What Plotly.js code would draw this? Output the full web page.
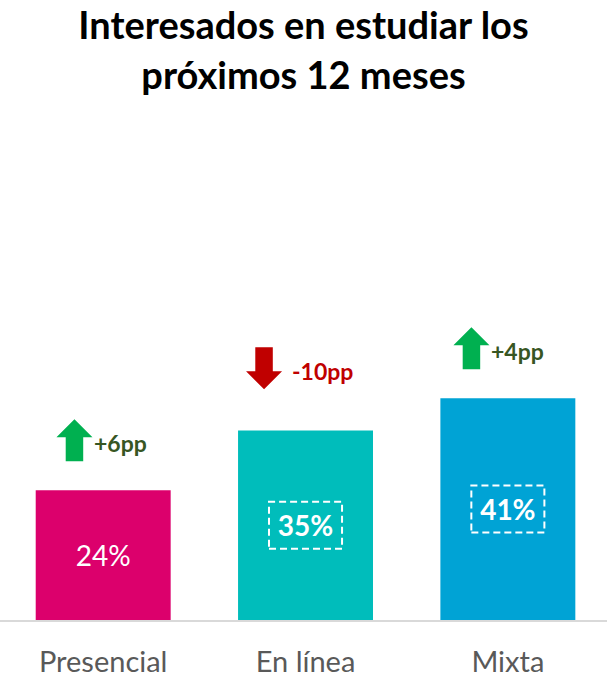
<!DOCTYPE html>
<html>
<head>
<meta charset="utf-8">
<script src="https://cdn.plot.ly/plotly-3.0.1.min.js"></script>
<style>html,body{margin:0;padding:0;background:#fff;}#chart{width:607px;height:681px;}</style>
</head>
<body>
<div id="chart"></div>
<script>
// ---- data ----
const categories = ['Presencial', 'En línea', 'Mixta'];
const values = [24, 35, 41];
const changes = [6, -10, 4];           // change vs previous, in pp
const changeLabels = ['+6pp', '-10pp', '+4pp'];
const boldLabel = [false, true, true];
const boxedLabel = [false, true, true];

// ---- styles / layout helpers ----
const barColors = ['#DC006C', '#00BDBB', '#00A3D5'];
const upColor = '#00B050', downColor = '#C00000', upText = '#375623';
const FONT = 'Lato, "Open Sans", sans-serif';

// arrow placement (x offset from bar centre in category units, y gap above bar in %)
const arrowDx = [-0.142, -0.205, -0.180];
const arrowGap = [5.36, 7.65, 5.36];
const AW = 0.178, SW = 0.0865, AH = 7.76, HH = 3.33;

const xs = categories.map((c, i) => i);

const shapes = [];
const annotations = [];
values.forEach((v, i) => {
  const cx = i + arrowDx[i];
  const yb = v + arrowGap[i];
  const yt = yb + AH;
  let path;
  if (changes[i] >= 0) {
    path = `M ${cx - SW/2} ${yb} L ${cx + SW/2} ${yb} L ${cx + SW/2} ${yt - HH} L ${cx + AW/2} ${yt - HH} L ${cx} ${yt} L ${cx - AW/2} ${yt - HH} L ${cx - SW/2} ${yt - HH} Z`;
  } else {
    path = `M ${cx - SW/2} ${yt} L ${cx + SW/2} ${yt} L ${cx + SW/2} ${yb + HH} L ${cx + AW/2} ${yb + HH} L ${cx} ${yb} L ${cx - AW/2} ${yb + HH} L ${cx - SW/2} ${yb + HH} Z`;
  }
  const col = changes[i] >= 0 ? upColor : downColor;
  shapes.push({type: 'path', xref: 'x', yref: 'y', path: path, fillcolor: col, line: {width: 0}});
  annotations.push({
    xref: 'x', yref: 'y', x: cx + AW/2 + (changes[i] >= 0 ? 0.0 : 0.04), y: (yb + yt)/2 - 0.5,
    xanchor: 'left', yanchor: 'middle', showarrow: false,
    text: '<b>' + changeLabels[i] + '</b>',
    font: {family: FONT, size: 23, color: changes[i] >= 0 ? upText : downColor}
  });
  if (boxedLabel[i]) {
    const bw = 0.361, bh = 8.69;
    shapes.push({type: 'rect', xref: 'x', yref: 'y',
      x0: i - bw/2, x1: i + bw/2, y0: v/2 - bh/2, y1: v/2 + bh/2,
      line: {color: '#FFFFFF', width: 2, dash: '7px,4px'}, fillcolor: 'rgba(0,0,0,0)'});
  }
});

const trace = {
  type: 'bar',
  x: xs,
  y: values,
  width: 0.667,
  marker: {color: barColors},
  text: values.map((v, i) => boldLabel[i] ? `<b>${v}%</b>` : `${v}%`),
  textposition: 'inside',
  insidetextanchor: 'middle',
  textangle: 0,
  constraintext: 'none',
  insidetextfont: {family: FONT, size: 28, color: '#FFFFFF'},
  hoverinfo: 'none'
};

const layout = {
  width: 607, height: 681,
  margin: {l: 0, r: 0, t: 100, b: 61, pad: 0},
  paper_bgcolor: '#FFFFFF', plot_bgcolor: '#FFFFFF',
  showlegend: false,
  title: {
    text: '<b>Interesados en estudiar los<br>próximos 12 meses</b>',
    font: {family: FONT, size: 38, color: '#000000'},
    x: 0.5, xanchor: 'center', y: 0.942, yanchor: 'top'
  },
  xaxis: {
    range: [-0.51, 2.49],
    tickvals: xs, ticktext: categories,
    showgrid: false, zeroline: false,
    showline: true, linecolor: '#D9D9D9', linewidth: 1.5,
    ticks: '', ticklabelstandoff: 16,
    tickfont: {family: FONT, size: 29, color: '#595959'},
    fixedrange: true
  },
  yaxis: {
    range: [0, 96.1],
    visible: false, showgrid: false, zeroline: false, fixedrange: true
  },
  shapes: shapes,
  annotations: annotations
};

Plotly.newPlot('chart', [trace], layout, {displayModeBar: false, staticPlot: true});
</script>
</body>
</html>
